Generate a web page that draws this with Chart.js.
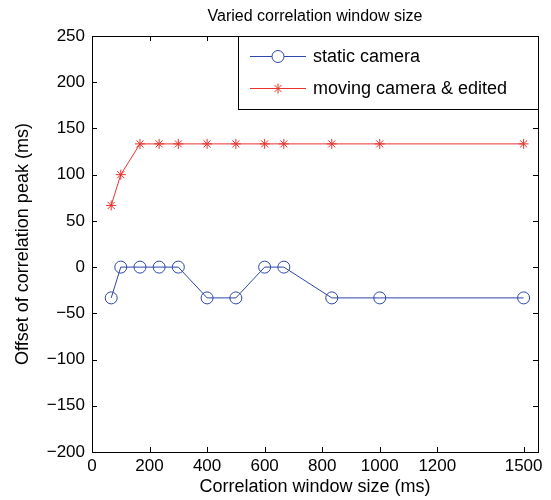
<!DOCTYPE html>
<html>
<head>
<meta charset="utf-8">
<script src="https://cdn.jsdelivr.net/npm/chart.js@4/dist/chart.umd.min.js"></script>
<style>
  html, body { margin: 0; padding: 0; background: #fff; }
  #wrap { width: 551px; height: 500px; }
</style>
</head>
<body>
<div id="wrap"><canvas id="chart" width="551" height="500"></canvas></div>
<script>
const windowMs = [66.7, 100, 166.7, 233.3, 300, 400, 500, 600, 666.7, 833.3, 1000, 1500];
const staticCamera = [-33.3, 0, 0, 0, 0, -33.3, -33.3, 0, 0, -33.3, -33.3, -33.3];
const movingCamera = [66.7, 100, 133.3, 133.3, 133.3, 133.3, 133.3, 133.3, 133.3, 133.3, 133.3, 133.3];
const xTicks = [0, 200, 400, 600, 800, 1000, 1200, 1500];
const chartTitle = 'Varied correlation window size';

const BLUE = 'rgb(45,70,170)';
const RED = 'rgb(232,50,45)';
const FONT = 'Liberation Sans, Arial, Helvetica, sans-serif';

const toPoints = (ys) => windowMs.map((x, i) => ({ x: x, y: ys[i] }));
const plain = (v) => String(v).replace('-', '\u2212');

// box round the plot with inward ticks on all four sides, like MATLAB
const boxTicks = {
    id: 'boxTicks',
    afterDatasetsDraw(chart) {
        const { ctx, chartArea: a, scales } = chart;
        const len = 5;
        ctx.save();
        ctx.strokeStyle = '#000';
        ctx.lineWidth = 1;
        ctx.beginPath();
        scales.x.ticks.forEach(t => {
            const px = Math.round(scales.x.getPixelForValue(t.value)) + 0.5;
            ctx.moveTo(px, a.bottom); ctx.lineTo(px, a.bottom - len);
            ctx.moveTo(px, a.top); ctx.lineTo(px, a.top + len);
        });
        scales.y.ticks.forEach(t => {
            const py = Math.round(scales.y.getPixelForValue(t.value)) + 0.5;
            ctx.moveTo(a.left, py); ctx.lineTo(a.left + len, py);
            ctx.moveTo(a.right, py); ctx.lineTo(a.right - len, py);
        });
        ctx.stroke();
        ctx.strokeRect(Math.round(a.left) + 0.5, Math.round(a.top) + 0.5,
            Math.round(a.right - a.left), Math.round(a.bottom - a.top));
        // title centred over the plot, not the canvas
        ctx.fillStyle = '#000';
        ctx.font = '16px ' + FONT;
        ctx.textAlign = 'center';
        ctx.textBaseline = 'middle';
        ctx.fillText(chartTitle, (a.left + a.right) / 2, 17);
        ctx.restore();
    }
};

// legend box in the top right corner of the plot
const boxLegend = {
    id: 'boxLegend',
    afterDraw(chart) {
        const { ctx, chartArea: a } = chart;
        const x0 = 238.5, y0 = Math.round(a.top) + 0.5;
        const w = Math.round(a.right) - 238, h = 73;
        ctx.save();
        ctx.fillStyle = '#fff';
        ctx.fillRect(x0, y0, w, h);
        ctx.strokeStyle = '#000';
        ctx.lineWidth = 1;
        ctx.strokeRect(x0, y0, w, h);
        const rows = [56, 88];
        chart.data.datasets.forEach((ds, i) => {
            const y = rows[i];
            ctx.strokeStyle = ds.borderColor;
            ctx.lineWidth = 1;
            ctx.beginPath();
            ctx.moveTo(250, y + 0.5); ctx.lineTo(306, y + 0.5);
            ctx.stroke();
            Chart.helpers.drawPoint(ctx, {
                pointStyle: ds.pointStyle, radius: ds.pointRadius, rotation: 0, borderWidth: 1
            }, 278, y + 0.5);
            ctx.fillStyle = '#000';
            ctx.font = '18px ' + FONT;
            ctx.textBaseline = 'middle';
            ctx.fillText(ds.label, 313, y + 1);
        });
        ctx.restore();
    }
};

new Chart(document.getElementById('chart'), {
    type: 'line',
    data: {
        datasets: [{
            label: 'static camera',
            data: toPoints(staticCamera),
            borderColor: BLUE,
            backgroundColor: 'rgba(0,0,0,0)',
            borderWidth: 1,
            pointStyle: 'circle',
            pointRadius: 6,
            pointBorderWidth: 1,
            tension: 0
        }, {
            label: 'moving camera & edited',
            data: toPoints(movingCamera),
            borderColor: RED,
            backgroundColor: RED,
            borderWidth: 1,
            pointStyle: 'star',
            pointRadius: 5,
            pointBorderWidth: 1,
            tension: 0
        }]
    },
    plugins: [boxTicks, boxLegend],
    options: {
        responsive: false,
        animation: false,
        layout: { padding: { left: 0, right: 13, top: 36, bottom: 0 } },
        plugins: {
            legend: { display: false },
            tooltip: { enabled: false },
            title: { display: false }
        },
        scales: {
            x: {
                type: 'linear',
                min: 0,
                max: 1550,
                afterBuildTicks: (scale) => { scale.ticks = xTicks.map(v => ({ value: v })); },
                afterFit: (scale) => { scale.height = 48; scale.paddingLeft = 0; scale.paddingRight = 0; },
                grid: { display: false, drawTicks: false, tickLength: 0 },
                border: { display: false },
                ticks: { color: '#000', font: { family: FONT, size: 17 }, padding: 4, maxRotation: 0, autoSkip: false, callback: plain },
                title: {
                    display: true,
                    text: 'Correlation window size (ms)',
                    color: '#000',
                    font: { family: FONT, size: 18 },
                    padding: { top: 0, bottom: 2 }
                }
            },
            y: {
                type: 'linear',
                min: -200,
                max: 250,
                afterFit: (scale) => { scale.width = 92; scale.paddingTop = 0; scale.paddingBottom = 0; },
                grid: { display: false, drawTicks: false, tickLength: 0 },
                border: { display: false },
                ticks: { stepSize: 50, color: '#000', font: { family: FONT, size: 17 }, padding: 7, callback: plain },
                title: {
                    display: true,
                    text: 'Offset of correlation peak (ms)',
                    color: '#000',
                    font: { family: FONT, size: 18 },
                    padding: { top: 12, bottom: 0 }
                }
            }
        }
    }
});
</script>
</body>
</html>
